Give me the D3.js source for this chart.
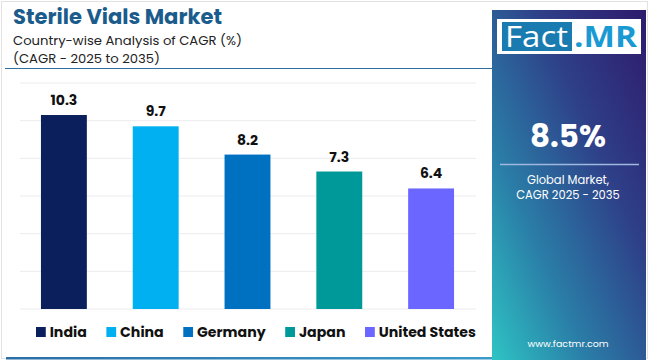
<!DOCTYPE html>
<html><head><meta charset="utf-8">
<script src="https://cdn.jsdelivr.net/npm/d3@7"></script>
<style>html,body{margin:0;padding:0;background:#fff;}svg{display:block;}</style>
</head><body>
<svg id="c" width="650" height="360"></svg>
<script>
const categories = ["India", "China", "Germany", "Japan", "United States"];
const values = [10.3, 9.7, 8.2, 7.3, 6.4];
const colors = ["#0b1f5c", "#00b0f0", "#0070c0", "#009999", "#6b66ff"];
const yTicks = [0, 2, 4, 6, 8, 10, 12];
const titleText = "Sterile Vials Market";
const subtitleLines = ["Country-wise Analysis of CAGR (%)", "(CAGR - 2025 to 2035)"];
const globalValue = "8.5%";
const globalLabel = ["Global Market,", "CAGR 2025 - 2035"];
const site = "www.factmr.com";

const svg = d3.select("#c");
const F = "Poppins, 'Noto Sans', 'DejaVu Sans', sans-serif";
const defs = svg.append("defs");

// outer frame
svg.append("rect").attr("x", 1.5).attr("y", 1.5).attr("width", 646).attr("height", 357)
  .attr("fill", "#fff").attr("stroke", "#e2e2e2").attr("stroke-width", 1);

// bottom gradient line
const lg = defs.append("linearGradient").attr("id", "bl");
lg.append("stop").attr("offset", "0%").attr("stop-color", "#2a6fa8");
lg.append("stop").attr("offset", "100%").attr("stop-color", "#3a9ac8");
svg.append("rect").attr("x", 6).attr("y", 357).attr("width", 490).attr("height", 2.5).attr("fill", "url(#bl)");

// title
svg.append("text").attr("x", 13).attr("y", 23.5).text(titleText)
  .attr("font-family", F).attr("font-weight", 700).attr("font-size", 21).attr("fill", "#1b5c8c")
  .attr("textLength", 209).attr("lengthAdjust", "spacingAndGlyphs");
svg.selectAll("text.sub").data(subtitleLines).join("text").attr("class", "sub")
  .attr("x", 13).attr("y", (d, i) => 44.5 + i * 18.5).text(d => d)
  .attr("font-family", F).attr("font-size", 13).attr("fill", "#222")
  .attr("textLength", (d, i) => i === 0 ? 229 : 147).attr("lengthAdjust", "spacingAndGlyphs");
svg.append("line").attr("x1", 5).attr("x2", 492).attr("y1", 68.5).attr("y2", 68.5)
  .attr("stroke", "#2f6e9e").attr("stroke-width", 1.2);

// chart
const x = d3.scaleBand().domain(categories).range([18, 477]).paddingInner(0.5).paddingOuter(0.25);
const y = d3.scaleLinear().domain([0, 12]).range([309, 83]);

svg.append("g").selectAll("line").data(yTicks).join("line")
  .attr("x1", 20).attr("x2", 476).attr("y1", d => y(d)).attr("y2", d => y(d))
  .attr("stroke", "#ececf0").attr("stroke-width", 1);

svg.append("g").selectAll("rect").data(values).join("rect")
  .attr("x", (d, i) => x(categories[i])).attr("width", x.bandwidth())
  .attr("y", d => y(d)).attr("height", d => y(0) - y(d))
  .attr("fill", (d, i) => colors[i]);

svg.append("g").selectAll("text").data(values).join("text")
  .attr("x", (d, i) => x(categories[i]) + x.bandwidth() / 2).attr("y", d => y(d) - 10)
  .attr("text-anchor", "middle").text(d => d.toFixed(1))
  .attr("font-family", F).attr("font-weight", 700).attr("font-size", 14).attr("fill", "#111");

// legend
const leg = svg.append("g");
let lx = 36;
categories.forEach((c, i) => {
  leg.append("rect").attr("x", lx).attr("y", 327).attr("width", 10).attr("height", 10).attr("fill", colors[i]);
  const t = leg.append("text").attr("x", lx + 14).attr("y", 337).text(c)
    .attr("font-family", F).attr("font-weight", 700).attr("font-size", 14.5).attr("fill", "#111");
  const w = t.node().getComputedTextLength();
  lx += 14 + w + 20;
});
const legW = lx - 20 - 36;
leg.attr("transform", `translate(${36},0) scale(${440 / legW},1) translate(${-36},0)`);

// right panel
const rg = defs.append("linearGradient").attr("id", "rp")
  .attr("x1", "100%").attr("y1", "0%").attr("x2", "0%").attr("y2", "100%");
rg.append("stop").attr("offset", "0%").attr("stop-color", "#2f1a6c");
rg.append("stop").attr("offset", "35%").attr("stop-color", "#2e3f88");
rg.append("stop").attr("offset", "70%").attr("stop-color", "#2a7fa8");
rg.append("stop").attr("offset", "100%").attr("stop-color", "#2ec4c4");
svg.append("rect").attr("x", 492).attr("y", 10).attr("width", 154).attr("height", 350).attr("fill", "url(#rp)");

// logo
svg.append("rect").attr("x", 497).attr("y", 19).attr("width", 144).attr("height", 35).attr("fill", "#fff");
svg.append("rect").attr("x", 502).attr("y", 22).attr("width", 70).attr("height", 29).attr("fill", "#1a7bb0");
svg.append("text").attr("x", 505).attr("y", 47).text("Fact")
  .attr("font-family", "'Open Sans', 'Noto Sans', sans-serif").attr("font-size", 30).attr("fill", "#fff")
  .attr("textLength", 63).attr("lengthAdjust", "spacingAndGlyphs");
svg.append("text").attr("x", 574).attr("y", 47).text(".MR")
  .attr("font-family", "'Open Sans', 'Noto Sans', sans-serif").attr("font-weight", 700).attr("font-size", 29).attr("fill", "#1a9ad3")
  .attr("textLength", 63).attr("lengthAdjust", "spacingAndGlyphs");

svg.append("text").attr("x", 568).attr("y", 147).attr("text-anchor", "middle").text(globalValue)
  .attr("font-family", F).attr("font-weight", 700).attr("font-size", 31).attr("fill", "#fff");
svg.append("line").attr("x1", 500).attr("x2", 639).attr("y1", 164.5).attr("y2", 164.5)
  .attr("stroke", "#9fb8e0").attr("stroke-width", 1.5);
svg.selectAll("text.gl").data(globalLabel).join("text").attr("class", "gl")
  .attr("x", 568).attr("y", (d, i) => 184 + i * 15).attr("text-anchor", "middle").text(d => d)
  .attr("font-family", F).attr("font-size", 11.5).attr("fill", "#fff");
svg.append("text").attr("x", 568).attr("y", 347).attr("text-anchor", "middle").text(site)
  .attr("font-family", F).attr("font-size", 9.5).attr("fill", "#fff");
</script>
</body></html>
